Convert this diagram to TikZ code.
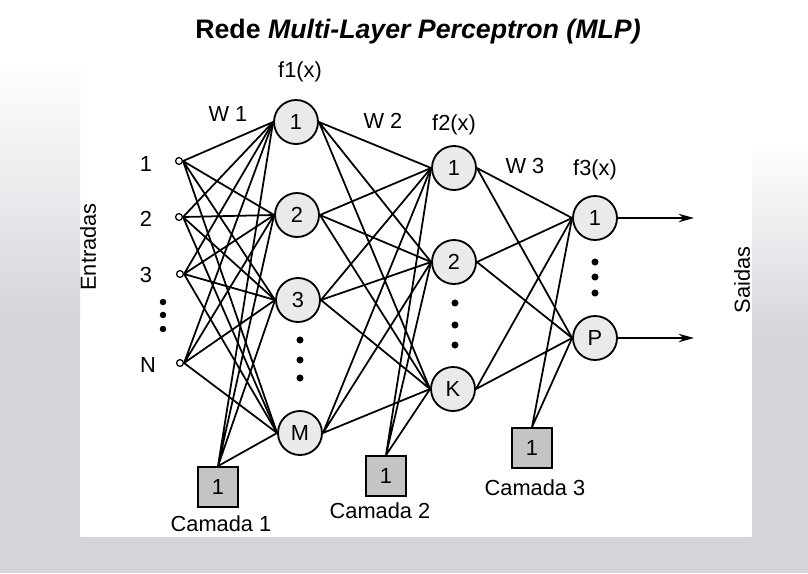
\documentclass[tikz,border=0pt]{standalone}
\usepackage{fontspec}
\setmainfont{Liberation Sans}
\usetikzlibrary{arrows.meta}
\definecolor{scangray}{RGB}{214,212,219}
\definecolor{boxgray}{RGB}{196,196,198}
\definecolor{cellgray}{RGB}{234,234,236}

\begin{document}
\begin{tikzpicture}[x=0.025cm, y=-0.025cm,
    txt/.style={font=\fontsize{15.5}{18}\selectfont},
    neuron/.style={draw, circle, line width=1.3pt, fill=cellgray, minimum size=1.1cm, inner sep=0pt, txt},
    biasbox/.style={draw, line width=1.3pt, fill=boxgray, minimum size=1cm, inner sep=0pt, txt},
    entry/.style={draw, circle, line width=0.9pt, fill=white, minimum size=0.17cm, inner sep=0pt},
    link/.style={line width=1.25pt}]
      % scanned page background
      \useasboundingbox (0,0) rectangle (808,573);
      \fill[white] (0,0) rectangle (808,573);
      \fill[scangray] (0,537) rectangle (808,573);
      \fill[scangray] (0,320) rectangle (80,537);
      \shade[top color=white, bottom color=scangray] (0,60) rectangle (80,320);
      \fill[scangray] (752,340) rectangle (808,537);
      \shade[top color=white, bottom color=scangray] (752,140) rectangle (808,340);

      \node[font=\fontsize{19}{22}\selectfont\bfseries] (title) at (418,32) {Rede \textit{Multi-Layer Perceptron (MLP)}};

      % entradas
      \node[entry] (i1) at (179,161) {};
      \node[entry] (i2) at (179,217) {};
      \node[entry] (i3) at (180,274) {};
      \node[entry] (in) at (180,363) {};
      \node[txt] (l1) at (146,164) {1};
      \node[txt] (l2) at (146,219) {2};
      \node[txt] (l3) at (146,275) {3};
      \node[txt] (ln) at (148,365) {N};
      \node[txt, rotate=90] (entradas) at (88,247) {Entradas};

      % camada 1
      \node[neuron] (h1) at (296,122) {1};
      \node[neuron] (h2) at (297,215) {2};
      \node[neuron] (h3) at (298,300) {3};
      \node[neuron] (hm) at (300,433) {M};
      \node[biasbox] (b1) at (218,487) {1};
      \node[txt] (f1) at (300,72) {f1(x)};
      \node[txt] (w1) at (228,114) {W 1};
      \node[txt] (c1) at (221,524) {Camada 1};

      % camada 2
      \node[neuron] (k1) at (454,168) {1};
      \node[neuron] (k2) at (454,262) {2};
      \node[neuron] (kk) at (453,389) {K};
      \node[biasbox] (b2) at (386,476) {1};
      \node[txt] (f2) at (454,125) {f2(x)};
      \node[txt] (w2) at (383,121) {W 2};
      \node[txt] (c2) at (380,511) {Camada 2};

      % camada 3
      \node[neuron] (p1) at (595,218) {1};
      \node[neuron] (pp) at (595,338) {P};
      \node[biasbox] (b3) at (532,448) {1};
      \node[txt] (f3) at (595,170) {f3(x)};
      \node[txt] (w3) at (525,166) {W 3};
      \node[txt] (c3) at (535,488) {Camada 3};

      \coordinate (o1) at (694,218);
      \coordinate (o2) at (694,338);
      \node[txt, rotate=90] (saidas) at (742,280) {Saidas};

      % reticencias
      \fill (163,302) circle[radius=2.3pt] (163,315) circle[radius=2.3pt] (163,329) circle[radius=2.3pt];
      \fill (300,340) circle[radius=2.5pt] (300,360) circle[radius=2.5pt] (300,378) circle[radius=2.5pt];
      \fill (455,303) circle[radius=2.5pt] (455,325) circle[radius=2.5pt] (455,345) circle[radius=2.5pt];
      \fill (595,262) circle[radius=2.5pt] (595,277) circle[radius=2.5pt] (595,293) circle[radius=2.5pt];

      % pesos W 1
      \draw[link] (i1.east) -- (h1.west) (i1.east) -- (h2.west) (i1.east) -- (h3.west) (i1.east) -- (hm.west);
      \draw[link] (i2.east) -- (h1.west) (i2.east) -- (h2.west) (i2.east) -- (h3.west) (i2.east) -- (hm.west);
      \draw[link] (i3.east) -- (h1.west) (i3.east) -- (h2.west) (i3.east) -- (h3.west) (i3.east) -- (hm.west);
      \draw[link] (in.east) -- (h1.west) (in.east) -- (h2.west) (in.east) -- (h3.west) (in.east) -- (hm.west);
      \draw[link] (b1.north) -- (h1.west) (b1.north) -- (h2.west) (b1.north) -- (h3.west) (b1.north) -- (hm.west);

      % pesos W 2
      \draw[link] (h1.east) -- (k1.west) (h1.east) -- (k2.west) (h1.east) -- (kk.west);
      \draw[link] (h2.east) -- (k1.west) (h2.east) -- (k2.west) (h2.east) -- (kk.west);
      \draw[link] (h3.east) -- (k1.west) (h3.east) -- (k2.west) (h3.east) -- (kk.west);
      \draw[link] (hm.east) -- (k1.west) (hm.east) -- (k2.west) (hm.east) -- (kk.west);
      \draw[link] (b2.north) -- (k1.west) (b2.north) -- (k2.west) (b2.north) -- (kk.west);

      % pesos W 3
      \draw[link] (k1.east) -- (p1.west) (k1.east) -- (pp.west);
      \draw[link] (k2.east) -- (p1.west) (k2.east) -- (pp.west);
      \draw[link] (kk.east) -- (p1.west) (kk.east) -- (pp.west);
      \draw[link] (b3.north) -- (p1.west) (b3.north) -- (pp.west);

      % saidas
      \draw[link, -{Stealth[length=11pt, width=6pt]}] (p1) -- (o1);
      \draw[link, -{Stealth[length=11pt, width=6pt]}] (pp) -- (o2);
    \end{tikzpicture}
\end{document}
